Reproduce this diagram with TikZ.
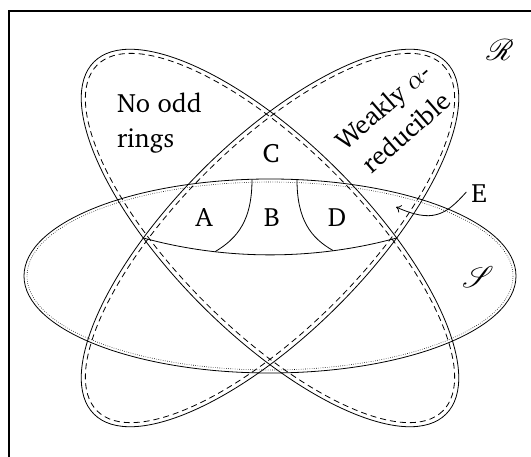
\documentclass[tikz,border=0pt]{standalone}
\usepackage[T1]{fontenc}
\usepackage{charter}
\usepackage{mathrsfs}
\usetikzlibrary{arrows.meta}
\begin{document}
\begin{tikzpicture}[x=1pt,y=-1pt,line width=0.8pt,
  lbl/.style={font=\fontsize{10}{13.2}\selectfont,scale=2.65,inner sep=0pt},
  scr/.style={font=\fontsize{10}{12}\selectfont,scale=3.0,inner sep=0pt},
  dsh/.style={dash pattern=on 6pt off 4pt},
  dtt/.style={line width=0.6pt,dash pattern=on 0.6pt off 1.6pt}]
\useasboundingbox (0,0) rectangle (531,457);
% frame
\draw[line width=1.6pt] (9,470) -- (9,11) -- (545,11);
% set S
\draw (270,276) ellipse [x radius=246, y radius=97];
\draw[dtt] (270,276) ellipse [x radius=243, y radius=94];
% left set (No odd rings)
\begin{scope}[shift={(270,238)},rotate=-45]
  \draw (0,0) ellipse [x radius=249, y radius=96];
  \draw[dsh] (0,0) ellipse [x radius=244.5, y radius=91.5];
\end{scope}
% right set (Weakly alpha-reducible)
\begin{scope}[shift={(270,238)},rotate=45]
  \draw (0,0) ellipse [x radius=249, y radius=96];
  \draw[dsh] (0,0) ellipse [x radius=244.5, y radius=91.5];
\end{scope}
% region boundaries
\coordinate (lx) at (143.3,238);
\coordinate (rx) at (396.7,238);
\draw (lx) .. controls (226,260.5) and (314,260.5) .. (rx);
\coordinate (ab1) at (252,179.3);
\coordinate (ab2) at (215,251.7);
\coordinate (bd1) at (297,179.6);
\coordinate (bd2) at (333,250.5);
\draw (ab1) .. controls (252,220) and (238,238) .. (ab2);
\draw (bd1) .. controls (297,220) and (311,238) .. (bd2);
% labels
\node[lbl,anchor=base west] (no) at (116,113) {No odd};
\node[lbl,anchor=base west] (ri) at (116,148) {rings};
\node[lbl,rotate=41,align=center] (wa) at (394,119) {Weakly $\alpha$-\\reducible};
\node[lbl] (C) at (271,154) {C};
\node[lbl] (A) at (204,217) {A};
\node[lbl] (B) at (272,217) {B};
\node[lbl] (D) at (337,217) {D};
\node[lbl] (E) at (479,193) {E};
\node[scr] (R) at (500,50) {$\mathscr{R}$};
\node[scr] (S) at (478,277) {$\mathscr{S}$};
\coordinate (Etip) at (396,207);
\draw[-{To[length=5pt,width=8pt]}] ([xshift=-4pt,yshift=1pt]E.west) .. controls (445,216) and (432,223) .. (Etip);
\end{tikzpicture}
\end{document}
